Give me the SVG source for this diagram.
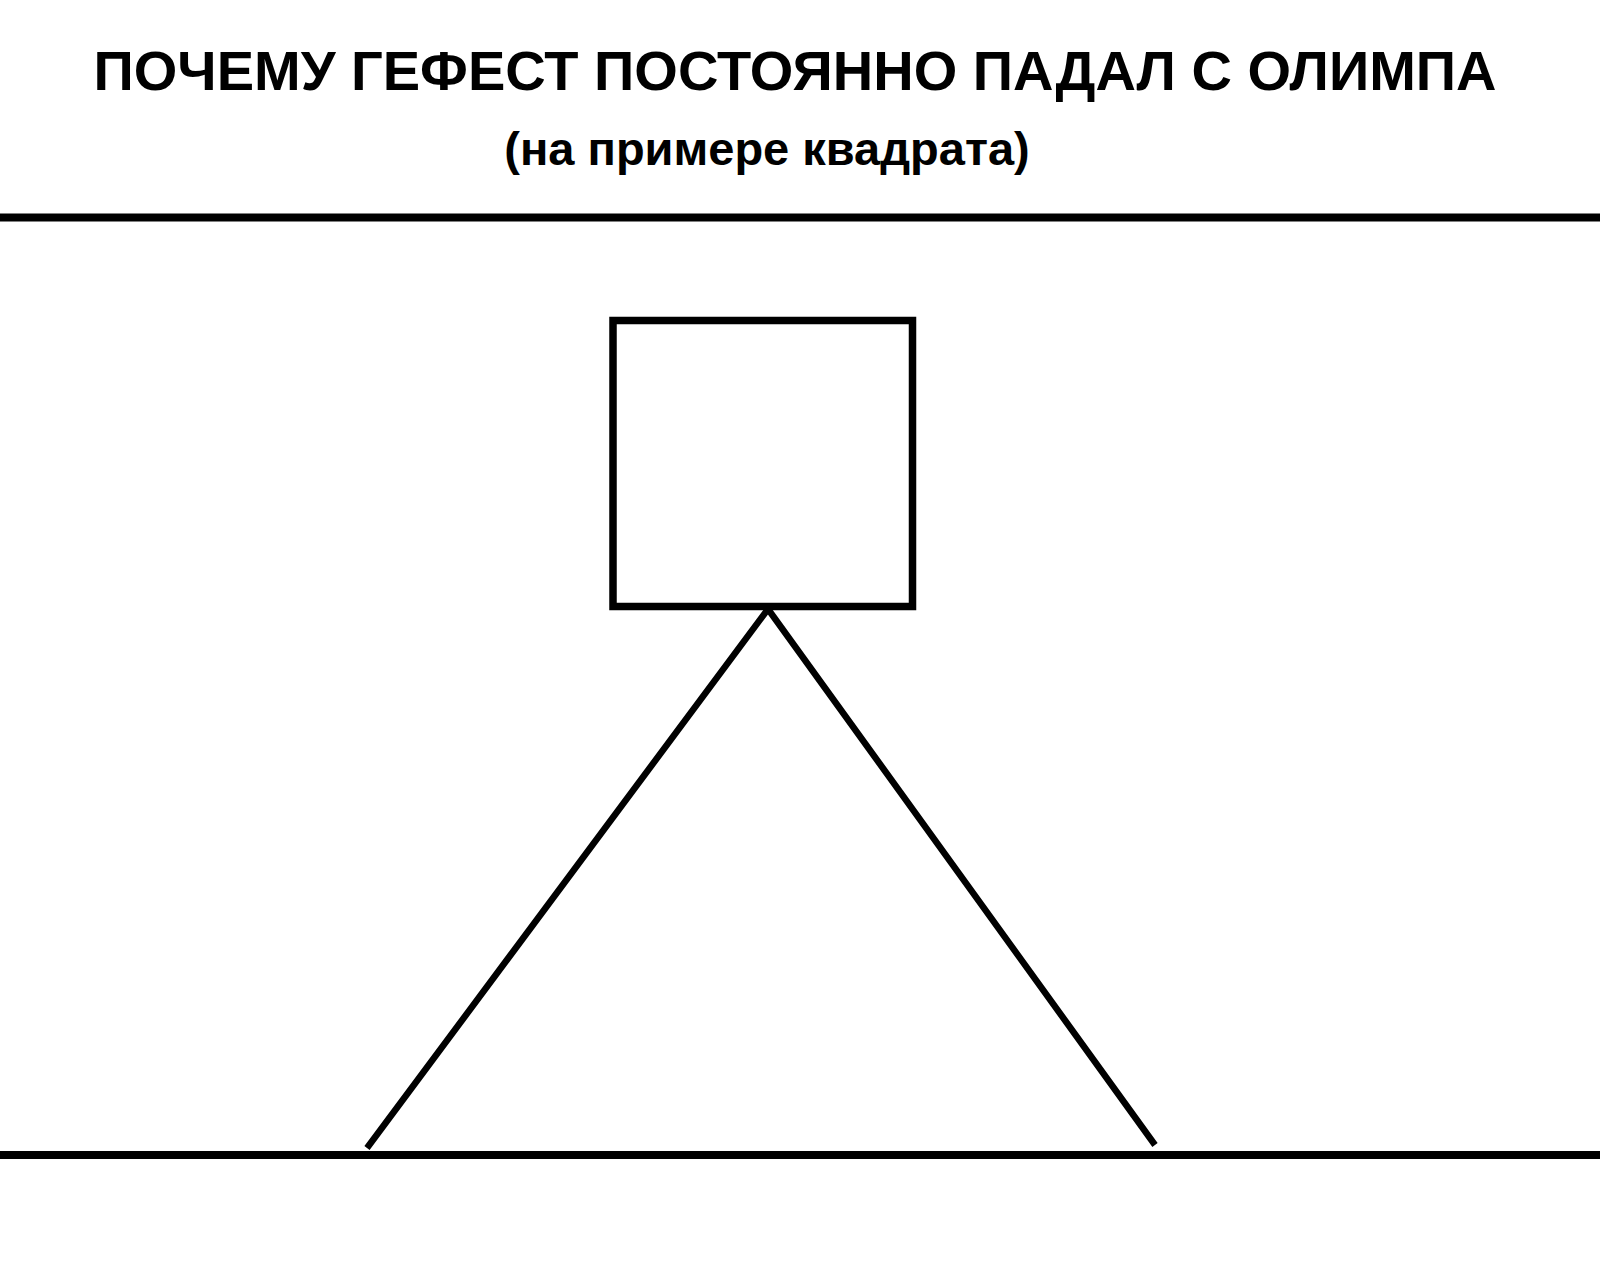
<svg xmlns="http://www.w3.org/2000/svg" width="1600" height="1278" viewBox="0 0 1600 1278">
<style>
.t{font-family:"Liberation Sans",Arial,sans-serif;font-weight:bold;fill:#000;text-anchor:middle}
.ln{stroke:#000;fill:none;stroke-linecap:butt}
</style>
<rect width="1600" height="1278" fill="#fff"/>
<g id="title">
<text class="t" x="795" y="90" font-size="56">ПОЧЕМУ ГЕФЕСТ ПОСТОЯННО ПАДАЛ С ОЛИМПА</text>
<text class="t" x="767" y="165" font-size="47">(на примере квадрата)</text>
</g>
<g id="olympus-line"><line class="ln" x1="0" y1="217.5" x2="1600" y2="217.5" stroke-width="8"/></g>
<g id="ground-line"><line class="ln" x1="0" y1="1155" x2="1600" y2="1155" stroke-width="8"/></g>
<g id="square"><rect class="ln" x="613" y="320.5" width="299.5" height="286" stroke-width="7.5"/></g>
<g id="connectors">
<polyline class="ln" points="367,1148 768,609 1155,1145" stroke-width="6.5" stroke-linejoin="miter"/>
</g>
</svg>
